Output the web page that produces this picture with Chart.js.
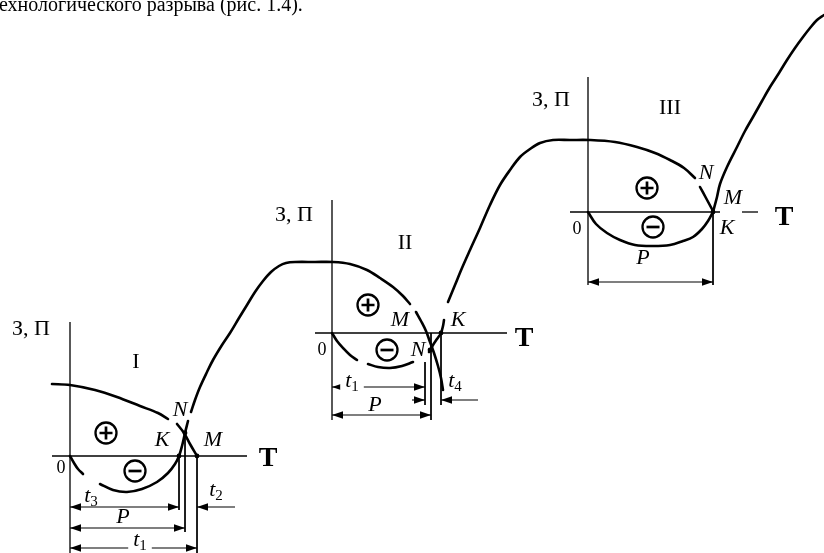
<!DOCTYPE html>
<html>
<head>
<meta charset="utf-8">
<script src="https://cdn.jsdelivr.net/npm/chart.js@4/dist/chart.umd.min.js"></script>
<style>
    body { margin: 0; background: #fff; }
    canvas { display: block; }
</style>
</head>
<body>
<canvas id="chart" width="824" height="553"></canvas>
<script>
// scheme units: x to the right, y downwards (the y scale is reversed)
var captionText = "ехнологического разрыва (рис. 1.4).";

// stage I
var costI = [[52, 384], [70, 385], [95, 390], [117, 397], [140, 406], [158, 413], [168, 419]];
var costIEnd = [[177, 424], [184, 433], [190, 444], [197, 456]];
var profitIStart = [[70, 456], [74, 463], [78, 469], [83, 474]];
var profitI = [[100, 484], [113, 490], [127, 492], [142, 489], [157, 482], [168, 473], [175, 464], [179, 456], [182, 446], [185, 433], [188, 421]];
// growth from I to II, then cost of stage II
var growthII = [[191, 412], [195, 400], [200, 387], [207, 372], [213, 360], [222, 345], [230, 333], [239, 318], [247, 305], [255, 292], [263, 281], [271, 272], [279, 266], [286, 263], [295, 262], [315, 262], [333, 262], [350, 264], [367, 270], [380, 278], [393, 287], [403, 296], [410, 304]];
var costIIEnd = [[416, 312], [421, 321], [426, 331], [430, 342], [434, 353], [438, 366], [441, 378], [443, 390]];
var profitIIStart = [[332, 333], [337, 341], [343, 348], [350, 355], [357, 360]];
var profitII = [[368, 364], [378, 367], [390, 368], [402, 366], [413, 362]];
var profitIIEnd = [[429, 352], [433, 345], [437, 339], [441, 333], [443, 326], [444, 320]];
// growth from II to III, then cost of stage III
var growthIII = [[448, 302], [455, 285], [462, 268], [470, 250], [480, 228], [490, 205], [500, 185], [510, 170], [520, 157], [530, 149], [540, 143], [553, 140], [570, 140], [590, 140], [615, 142], [637, 147], [655, 153], [670, 160], [684, 168], [695, 178]];
var costIIIEnd = [[700, 187], [706, 198], [713, 211]];
var profitIII = [[588, 212], [596, 224], [607, 233], [620, 240], [635, 245], [653, 246], [670, 245], [683, 241], [693, 237], [702, 229], [708, 221], [713, 212]];
var growthNext = [[713, 212], [717, 197], [720, 184], [727, 167], [737, 147], [745, 131], [753, 117], [762, 101], [770, 87], [779, 73], [787, 60], [795, 48], [803, 37], [810, 28], [817, 20], [824, 15]];

// axes of the three stages
var axesLines = [
    [[70, 322], [70, 553]], [[52, 456], [247, 456]],
    [[332, 200], [332, 420]], [[315, 333], [507, 333]],
    [[588, 77], [588, 285]], [[570, 212], [720, 212]], [[742, 212], [758, 212]]
];
// extension lines for the intervals
var extLines = [
    [[179, 456], [179, 510]], [[185, 433], [185, 532]], [[197, 456], [197, 553]],
    [[425, 362], [425, 405]], [[431, 333], [431, 420]], [[441, 333], [441, 405]],
    [[713, 212], [713, 285]]
];
// intervals: from, to, level, heads (arrow at start / end)
var intervals = [
    [70, 179, 507, true, true], [235, 197, 507, false, true],
    [70, 185, 528, true, true], [70, 197, 548, true, true],
    [332, 425, 387, true, true], [332, 431, 415, true, true],
    [412, 425, 400, false, true], [478, 441, 400, false, true],
    [588, 713, 282, true, true]
];
var crossPoints = [[179, 456], [185, 433], [197, 456], [430, 350], [441, 333], [713, 212]];

// labels: text, x, y, kind
var labels = [
    ["З, П", 31, 329, "serif"], ["I", 136, 362, "serif"], ["0", 61, 468, "small"],
    ["N", 180, 410, "italic"], ["K", 162, 440, "italic"], ["M", 213, 440, "italic"],
    ["T", 268, 459, "bold"],
    ["З, П", 294, 215, "serif"], ["II", 405, 243, "serif"], ["0", 322, 350, "small"],
    ["M", 400, 320, "italic"], ["K", 458, 320, "italic"], ["N", 418, 350, "italic"],
    ["T", 524, 339, "bold"],
    ["З, П", 551, 100, "serif"], ["III", 670, 108, "serif"], ["0", 577, 229, "small"],
    ["N", 706, 173, "italic"], ["M", 733, 198, "italic"], ["K", 727, 228, "italic"],
    ["T", 784, 218, "bold"],
    ["P", 123, 517, "boxed"], ["P", 375, 405, "boxed"], ["P", 643, 258, "italic"]
];
var intervalNames = [
    ["t", "3", 91, 496, false], ["t", "2", 216, 490, false], ["t", "1", 140, 540, true],
    ["t", "1", 352, 381, true], ["t", "4", 455, 381, false]
];
var signs = [["+", 106, 433], ["-", 135, 471], ["+", 368, 305], ["-", 387, 350], ["+", 647, 188], ["-", 653, 227]];

function toPoints(list) {
    return list.map(function (p) {
        return { x: p[0], y: p[1] };
    });
}

function curve(list) {
    return {
        data: toPoints(list),
        showLine: true,
        borderColor: "#000",
        borderWidth: 2.6,
        pointRadius: 0,
        tension: 0.35,
        borderCapStyle: "round"
    };
}

function straight(list, width) {
    return {
        data: toPoints(list),
        showLine: true,
        borderColor: "#000",
        borderWidth: width,
        pointRadius: 0,
        tension: 0
    };
}

var datasets = [costI, costIEnd, profitIStart, profitI, growthII, costIIEnd, profitIIStart, profitII, profitIIEnd, growthIII, costIIIEnd, profitIII, growthNext].map(curve);
axesLines.forEach(function (l) {
    datasets.push(straight(l, 1.3));
});
extLines.forEach(function (l) {
    datasets.push(straight(l, 1));
});
intervals.forEach(function (d) {
    datasets.push(straight([[d[0], d[2]], [d[1], d[2]]], 1.1));
});
datasets.push({
    data: toPoints(crossPoints),
    showLine: false,
    pointRadius: 2.4,
    pointBackgroundColor: "#000",
    pointBorderWidth: 0
});

var schemePlugin = {
    id: "scheme",
    afterDatasetsDraw: function (chart) {
        var ctx = chart.ctx;
        var sx = chart.scales.x;
        var sy = chart.scales.y;
        ctx.save();
        ctx.fillStyle = "#000";
        ctx.strokeStyle = "#000";

        // arrow heads of the intervals
        intervals.forEach(function (d) {
            var y = sy.getPixelForValue(d[2]);
            var a = sx.getPixelForValue(d[0]);
            var b = sx.getPixelForValue(d[1]);
            var dir = b > a ? 1 : -1;
            if (d[3]) head(ctx, a, y, -dir);
            if (d[4]) head(ctx, b, y, dir);
        });

        // caption cut at the top
        ctx.textBaseline = "alphabetic";
        ctx.textAlign = "left";
        ctx.font = "20px 'Liberation Serif'";
        ctx.fillText(captionText, -1, 11);

        ctx.textBaseline = "middle";
        ctx.textAlign = "center";
        labels.forEach(function (l) {
            var x = sx.getPixelForValue(l[1]);
            var y = sy.getPixelForValue(l[2]);
            if (l[3] == "serif") ctx.font = "22px 'Liberation Serif'";
            if (l[3] == "small") ctx.font = "18px 'Liberation Serif'";
            if (l[3] == "italic" || l[3] == "boxed") ctx.font = "italic 22px 'Liberation Serif'";
            if (l[3] == "bold") ctx.font = "bold 28px 'Liberation Serif'";
            if (l[3] == "boxed") {
                var w = ctx.measureText(l[0]).width;
                ctx.fillStyle = "#fff";
                ctx.fillRect(x - w / 2 - 4, y - 9, w + 8, 18);
                ctx.fillStyle = "#000";
            }
            ctx.fillText(l[0], x, y);
        });

        intervalNames.forEach(function (n) {
            var x = sx.getPixelForValue(n[2]);
            var y = sy.getPixelForValue(n[3]);
            ctx.font = "italic 22px 'Liberation Serif'";
            var w1 = ctx.measureText(n[0]).width;
            ctx.font = "15px 'Liberation Serif'";
            var w2 = ctx.measureText(n[1]).width;
            var left = x - (w1 + w2) / 2;
            if (n[4]) {
                ctx.fillStyle = "#fff";
                ctx.fillRect(left - 5, y - 10, w1 + w2 + 10, 20);
                ctx.fillStyle = "#000";
            }
            ctx.textAlign = "left";
            ctx.font = "italic 22px 'Liberation Serif'";
            ctx.fillText(n[0], left, y);
            ctx.font = "15px 'Liberation Serif'";
            ctx.fillText(n[1], left + w1, y + 6);
            ctx.textAlign = "center";
        });

        // circled signs
        signs.forEach(function (s) {
            var x = sx.getPixelForValue(s[1]);
            var y = sy.getPixelForValue(s[2]);
            ctx.fillStyle = "#fff";
            ctx.lineWidth = 2.3;
            ctx.beginPath();
            ctx.arc(x, y, 10.5, 0, Math.PI * 2);
            ctx.fill();
            ctx.stroke();
            ctx.lineWidth = 2.7;
            ctx.beginPath();
            ctx.moveTo(x - 6.5, y);
            ctx.lineTo(x + 6.5, y);
            if (s[0] == "+") {
                ctx.moveTo(x, y - 6.5);
                ctx.lineTo(x, y + 6.5);
            }
            ctx.stroke();
            ctx.fillStyle = "#000";
        });
        ctx.restore();
    }
};

function head(ctx, x, y, dir) {
    ctx.beginPath();
    ctx.moveTo(x, y);
    ctx.lineTo(x - dir * 11, y - 3.8);
    ctx.lineTo(x - dir * 11, y + 3.8);
    ctx.closePath();
    ctx.fill();
}

var chart = new Chart(document.getElementById("chart"), {
    type: "scatter",
    data: { datasets: datasets },
    options: {
        responsive: false,
        animation: false,
        layout: { padding: 0, autoPadding: false },
        scales: {
            x: { type: "linear", min: 0, max: 824, display: false },
            y: { type: "linear", min: 0, max: 553, reverse: true, display: false }
        },
        plugins: {
            legend: { display: false },
            tooltip: { enabled: false }
        }
    },
    plugins: [schemePlugin]
});
</script>
</body>
</html>
